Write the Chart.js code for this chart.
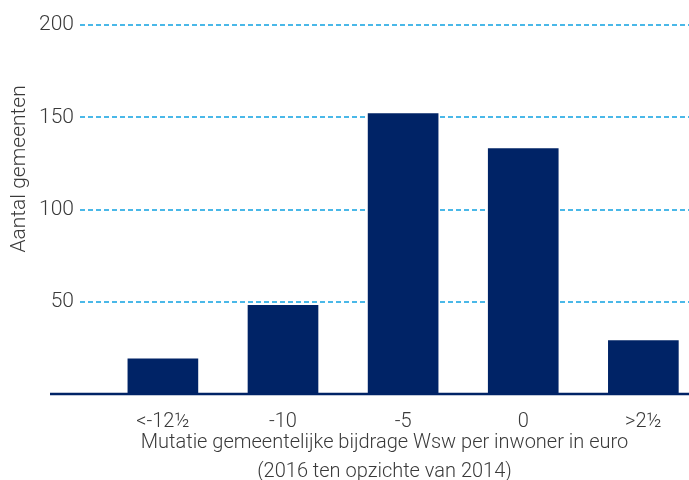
<!DOCTYPE html>
<html>
<head>
<meta charset="utf-8">
<script src="https://cdn.jsdelivr.net/npm/chart.js@4/dist/chart.umd.min.js"></script>
<style>
  html, body { margin: 0; padding: 0; background: #fff; overflow: hidden; }
  #wrap { width: 689px; height: 480px; }
</style>
</head>
<body>
<div id="wrap"><canvas id="chart" width="689" height="480"></canvas></div>
<script>
'use strict';

// data
const categories = ['<-12½', '-10', '-5', '0', '>2½'];
const counts = [19, 48, 152, 133, 29];
const yTicks = [0, 50, 100, 150, 200];

const yTitle = 'Aantal gemeenten';
const xTitle = ['Mutatie gemeentelijke bijdrage Wsw per inwoner in euro', '(2016 ten opzichte van 2014)'];

const navy = '#002366';
const gridBlue = '#4ab8e8';
const textGrey = '#3a3a3a';
const fontFamily = 'Roboto, "Liberation Sans", sans-serif';

const points = [];
for (let i = 0; i < counts.length; i++) {
  points.push({ x: i, y: counts[i] });
}

// baseline runs a bit left of the plot, y title sits higher than centre
const extras = {
  id: 'extras',
  afterDatasetsDraw(chart) {
    const ctx = chart.ctx;
    const area = chart.chartArea;
    const y0 = chart.scales.y.getPixelForValue(0);
    ctx.save();
    ctx.strokeStyle = navy;
    ctx.lineWidth = 2.5;
    ctx.beginPath();
    ctx.moveTo(area.left - 30, y0);
    ctx.lineTo(area.right, y0);
    ctx.stroke();

    ctx.translate(20, chart.scales.y.getPixelForValue(122));
    ctx.rotate(-Math.PI / 2);
    ctx.fillStyle = textGrey;
    ctx.font = '300 21px ' + fontFamily;
    ctx.textAlign = 'center';
    ctx.textBaseline = 'middle';
    ctx.fillText(yTitle, 0, 0);
    ctx.restore();
  }
};

const ctx = document.getElementById('chart').getContext('2d');
const chart = new Chart(ctx, {
  type: 'bar',
  data: {
    datasets: [{
      data: points,
      backgroundColor: navy,
      borderWidth: 0,
      barThickness: 70
    }]
  },
  options: {
    responsive: false,
    animation: false,
    layout: { padding: { top: 25 } },
    plugins: {
      legend: { display: false },
      tooltip: { enabled: false }
    },
    scales: {
      x: {
        type: 'linear',
        offset: false,
        min: -0.69,
        max: 4.38,
        afterBuildTicks(axis) {
          axis.ticks = categories.map((c, i) => ({ value: i }));
        },
        afterFit(axis) { axis.height = 86; },
        grid: { display: false, drawTicks: false },
        border: { display: false },
        ticks: {
          autoSkip: false,
          maxRotation: 0,
          padding: 16,
          color: textGrey,
          font: { family: fontFamily, size: 20, weight: 300 },
          callback: (v) => categories[v]
        },
        title: {
          display: true,
          text: xTitle,
          color: textGrey,
          padding: { top: 0, bottom: -6 },
          font: { family: fontFamily, size: 20, weight: 300, lineHeight: 1.45 }
        }
      },
      y: {
        min: 0,
        max: 200,
        afterBuildTicks(axis) {
          axis.ticks = yTicks.map((v) => ({ value: v }));
        },
        afterFit(axis) { axis.width = 80; },
        grid: {
          drawTicks: false,
          lineWidth: 2,
          color: (c) => (c.tick && c.tick.value === 0 ? 'rgba(0,0,0,0)' : gridBlue)
        },
        border: { display: false, dash: [5, 3] },
        ticks: {
          padding: 6,
          color: textGrey,
          font: { family: fontFamily, size: 21, weight: 300 },
          callback: (v) => (v === 0 ? '' : v)
        }
      }
    }
  },
  plugins: [extras]
});
</script>
</body>
</html>
